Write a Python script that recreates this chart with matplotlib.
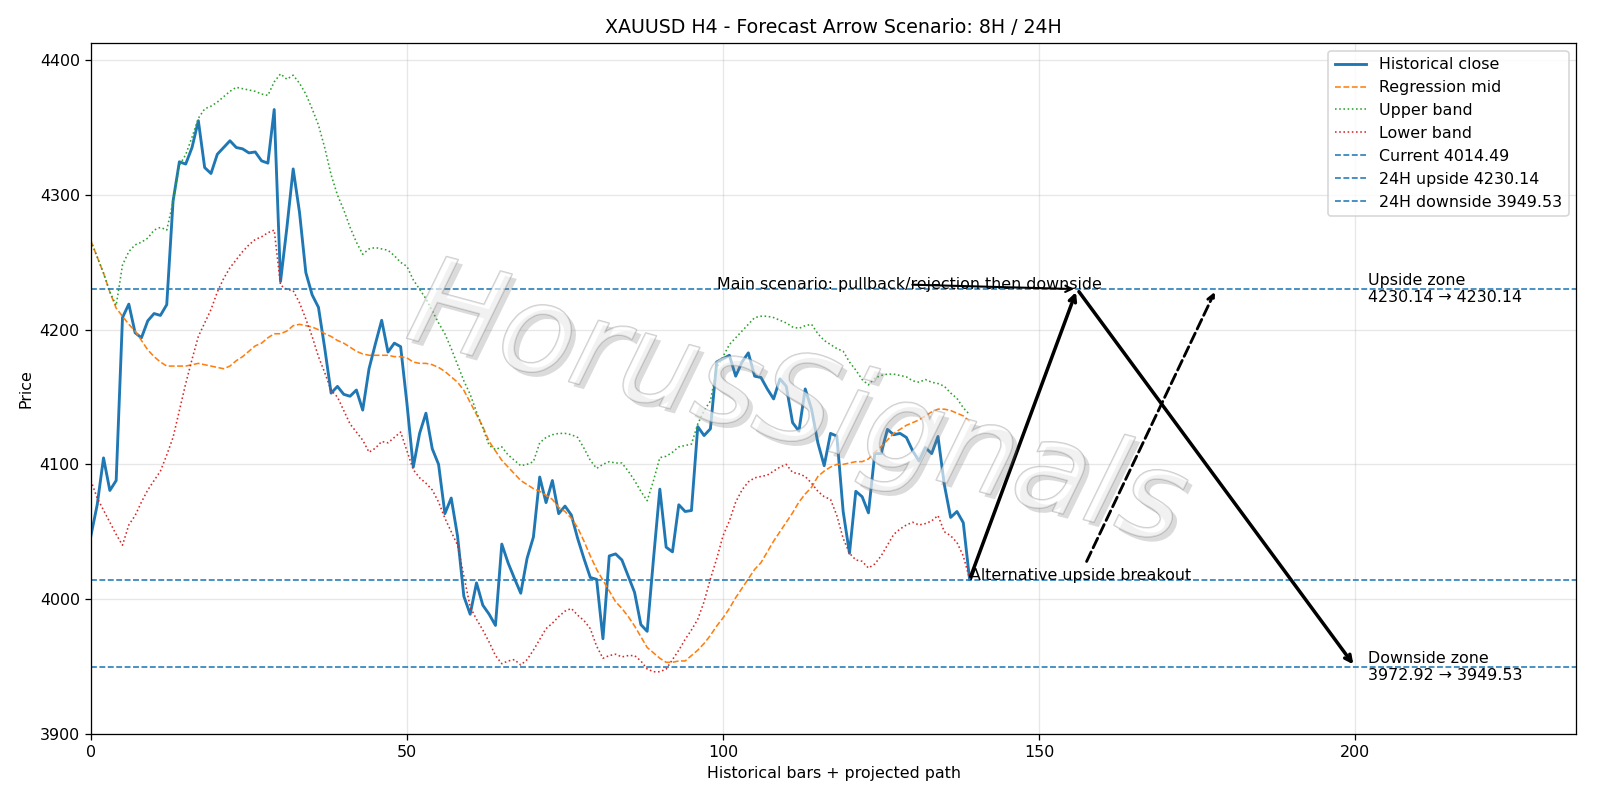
import matplotlib
matplotlib.use("Agg")
import matplotlib.pyplot as plt
import matplotlib.patheffects as pe
import numpy as np

close = [4046.8, 4070, 4104.8, 4080.6, 4088, 4209, 4219, 4197.7, 4194, 4206.6,
         4212, 4210.6, 4218.6, 4295.5, 4324.7, 4323, 4335.3, 4355.2, 4320.4, 4316,
         4330.3, 4335.3, 4340.3, 4335.3, 4334.3, 4331.3, 4332, 4325.4, 4323.7, 4363.5,
         4235.8, 4275.6, 4319.4, 4287.2, 4242.5, 4225.9, 4216.6, 4186, 4152.9, 4157.9,
         4152, 4150.6, 4155.2, 4140.3, 4171, 4189.4, 4207, 4183.4, 4190, 4187.4,
         4145, 4098, 4123, 4138, 4111.6, 4100, 4063.4, 4075, 4046.8, 4002,
         3988.7, 4012, 3995.4, 3988.7, 3980.4, 4040.8, 4026.8, 4015.3, 4004.3, 4030.2,
         4046, 4090.6, 4071.6, 4088, 4063.4, 4069, 4062.4, 4045, 4030, 4016,
         4014.6, 3970.5, 4032, 4033.5, 4029, 4017, 4005, 3981, 3976, 4030,
         4081.6, 4038.5, 4035, 4070, 4065, 4065.7, 4128, 4121.4, 4126.4, 4176,
         4178.4, 4181, 4165.5, 4176, 4182.8, 4165.5, 4164.5, 4156, 4148.6, 4163.5,
         4158, 4131, 4124.7, 4156, 4141, 4116, 4099, 4123, 4121, 4065,
         4034, 4080, 4076, 4064, 4108, 4108, 4126, 4122, 4123, 4120,
         4110, 4102.5, 4112.5, 4108, 4120.7, 4085, 4060.6, 4065, 4056.7, 4014.49]

mid = [4266, 4254, 4242, 4228, 4216, 4210, 4204, 4199, 4192, 4185,
       4180, 4176, 4173, 4173, 4173, 4173, 4174, 4175, 4174, 4173,
       4172, 4171, 4173, 4177, 4180, 4184, 4188, 4190, 4194, 4197,
       4197, 4199, 4203, 4204, 4203, 4202, 4200, 4197, 4195, 4192,
       4190, 4187, 4184, 4182, 4181, 4181, 4181, 4181, 4180, 4180,
       4179, 4176, 4175, 4175, 4174, 4172, 4169, 4165, 4161, 4155,
       4146, 4137, 4128, 4117, 4110, 4103, 4098, 4093, 4088, 4085,
       4082, 4080, 4077, 4074, 4068, 4065, 4060, 4053, 4043, 4032,
       4022, 4014, 4006, 3998, 3993, 3987, 3980, 3972, 3964, 3960,
       3956, 3953, 3953, 3954, 3954, 3958, 3962, 3967, 3973, 3980,
       3986, 3993, 4001, 4008, 4015, 4022, 4027, 4035, 4043, 4050,
       4057, 4064, 4072, 4078, 4083, 4091, 4095, 4098, 4100, 4100,
       4101, 4102, 4102, 4104, 4109, 4113, 4118, 4123, 4126, 4129,
       4131, 4133, 4136, 4139, 4141, 4141, 4140, 4138, 4136, 4132]

upper = [4266, 4254, 4242, 4228, 4218, 4248, 4258, 4263, 4265, 4268,
         4274, 4276, 4274, 4295, 4322, 4330, 4343, 4357, 4364, 4366,
         4369, 4373, 4377, 4380, 4379, 4378, 4377, 4375, 4374, 4384,
         4390, 4386, 4389, 4383, 4375, 4364, 4352, 4335, 4315, 4300,
         4289, 4276, 4265, 4256, 4260, 4261, 4260, 4259, 4255, 4250,
         4247, 4237, 4230, 4223, 4214, 4205, 4197, 4186, 4174, 4162,
         4152, 4139, 4127, 4114, 4111, 4113, 4107, 4103, 4099, 4100,
         4102, 4116, 4120, 4122, 4123, 4123, 4122, 4120, 4112, 4103,
         4097, 4100, 4102, 4101, 4101, 4095, 4088, 4080, 4073, 4088,
         4105, 4106, 4109, 4113, 4114, 4115, 4130, 4140, 4147, 4172,
         4180, 4189, 4194, 4199, 4204, 4209, 4210, 4210, 4209, 4207,
         4205, 4202, 4201, 4203, 4204, 4197, 4192, 4189, 4186, 4184,
         4176, 4170, 4163, 4159, 4164, 4166, 4167, 4167, 4166, 4165,
         4162, 4161, 4163, 4161, 4160, 4158, 4153, 4149, 4142, 4137]

lower = [4088, 4075, 4066, 4057, 4048, 4040, 4055, 4062, 4072, 4081,
         4088, 4095, 4107, 4120, 4140, 4160, 4178, 4195, 4205, 4215,
         4228, 4238, 4246, 4252, 4258, 4263, 4267, 4269, 4272, 4274,
         4233, 4230, 4229, 4220, 4208, 4195, 4180, 4168, 4155, 4150,
         4140, 4130, 4124, 4118, 4109, 4112, 4117, 4116, 4120, 4124,
         4110, 4096, 4090, 4086, 4081, 4072, 4060, 4050, 4040, 4017,
         3994, 3985, 3977, 3968, 3958, 3952, 3954, 3955, 3951, 3955,
         3962, 3970, 3978, 3982, 3987, 3991, 3993, 3988, 3984, 3978,
         3965, 3956, 3958, 3959, 3957, 3958, 3958, 3954, 3948, 3946,
         3946, 3948, 3955, 3962, 3970, 3977, 3985, 3998, 4015, 4030,
         4047, 4058, 4072, 4081, 4087, 4090, 4091, 4092, 4095, 4098,
         4100, 4094, 4093, 4091, 4086, 4080, 4076, 4074, 4062, 4045,
         4034, 4029, 4028, 4023, 4026, 4032, 4040, 4048, 4052, 4055,
         4057, 4055, 4056, 4058, 4062, 4050, 4047, 4042, 4032, 4015]

current = 4014.49
up_24h = 4230.14
down_24h = 3949.53
down_zone_hi = 3972.92

# projected path (bar index, price)
peak_x = 156
down_x = 200
alt_x = 178
zone_text_x = 202
main_text_x = 99

title = "XAUUSD H4 - Forecast Arrow Scenario: 8H / 24H"

fig = plt.figure(figsize=(14, 7), dpi=1600 / 14)
ax = fig.add_axes([0.0568, 0.0829, 0.9285, 0.8635])

x = np.arange(len(close))
last_x = x[-1]

ax.plot(x, close, color="tab:blue", lw=1.8, label="Historical close")
ax.plot(x, mid, color="tab:orange", lw=1.0, ls="--", label="Regression mid")
ax.plot(x, upper, color="tab:green", lw=1.0, ls=":", label="Upper band")
ax.plot(x, lower, color="tab:red", lw=1.0, ls=":", label="Lower band")
ax.axhline(current, color="tab:blue", lw=1, ls="--", label=f"Current {current:.2f}")
ax.axhline(up_24h, color="tab:blue", lw=1, ls="--", label=f"24H upside {up_24h:.2f}")
ax.axhline(down_24h, color="tab:blue", lw=1, ls="--", label=f"24H downside {down_24h:.2f}")

ax.annotate("", xy=(peak_x, up_24h), xytext=(last_x, current),
            arrowprops=dict(arrowstyle="->", lw=2.2, color="black"))
ax.annotate("", xy=(down_x, down_24h), xytext=(peak_x, up_24h),
            arrowprops=dict(arrowstyle="->", lw=2.2, color="black"))
ax.annotate("Main scenario: pullback/rejection then downside",
            xy=(peak_x, up_24h), xytext=(main_text_x, up_24h),
            arrowprops=dict(arrowstyle="->", lw=1.3, color="black"))
ax.annotate("Alternative upside breakout", xy=(alt_x, up_24h), xytext=(last_x, current),
            arrowprops=dict(arrowstyle="->", lw=1.8, ls="--", color="black"))

ax.text(zone_text_x, up_24h, f"Upside zone\n{up_24h:.2f} \u2192 {up_24h:.2f}", va="center")
ax.text(zone_text_x, down_24h, f"Downside zone\n{down_zone_hi:.2f} \u2192 {down_24h:.2f}", va="center")

fig.text(0.498, 0.49, "HorusSignals", ha="center", va="center",
         fontsize=77, rotation=-15, style="italic", color="white", alpha=0.4,
         path_effects=[pe.SimplePatchShadow(offset=(3, -3), shadow_rgbFace="gray", alpha=0.28),
                       pe.Stroke(linewidth=1.0, foreground="gray"), pe.Normal()])

ax.set_xlim(0, 235)
ax.set_ylim(3900, 4413)
ax.set_title(title, fontsize=12)
ax.set_xlabel("Historical bars + projected path")
ax.set_ylabel("Price")
ax.grid(True, alpha=0.3)
ax.legend(loc="upper right")

fig.savefig("out.png", dpi=1600 / 14)
